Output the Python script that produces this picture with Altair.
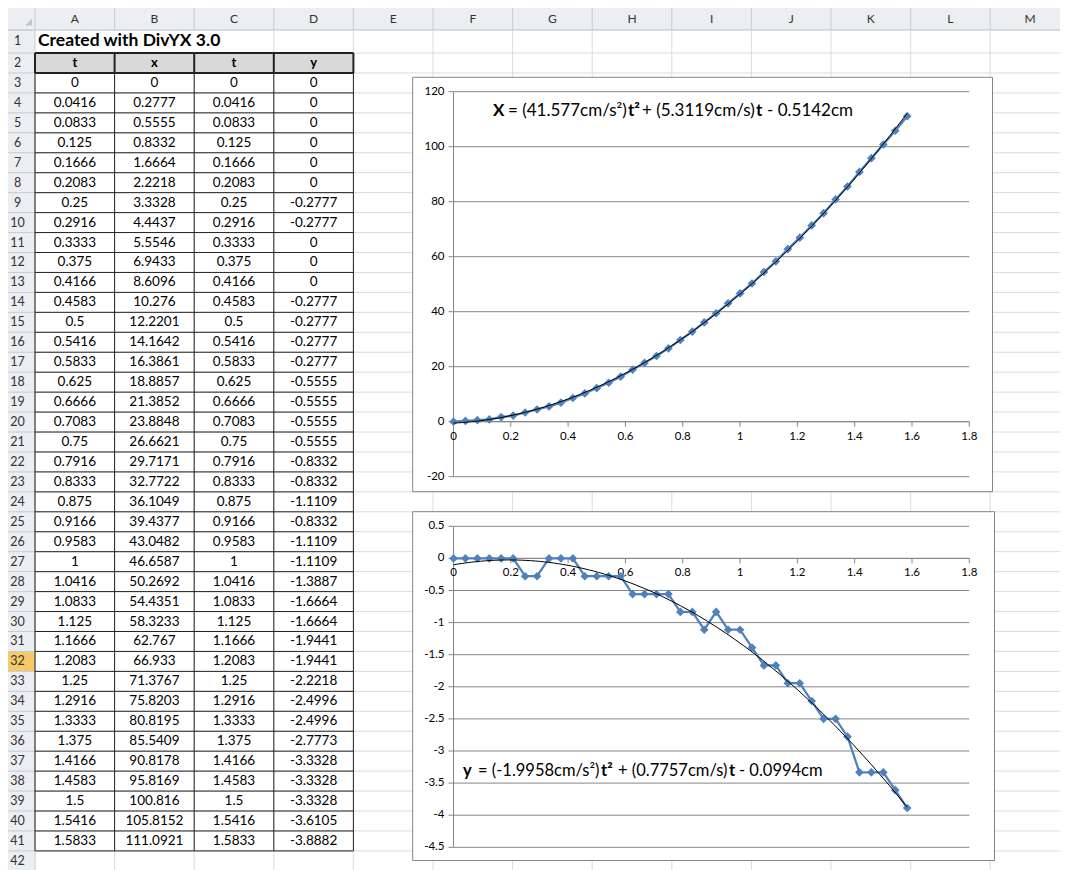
import altair as alt
import pandas as pd

# ---------------- data (read from the spreadsheet) ----------------
t_vals = [0, 0.0416, 0.0833, 0.125, 0.1666, 0.2083, 0.25, 0.2916, 0.3333, 0.375,
          0.4166, 0.4583, 0.5, 0.5416, 0.5833, 0.625, 0.6666, 0.7083, 0.75, 0.7916,
          0.8333, 0.875, 0.9166, 0.9583, 1, 1.0416, 1.0833, 1.125, 1.1666, 1.2083,
          1.25, 1.2916, 1.3333, 1.375, 1.4166, 1.4583, 1.5, 1.5416, 1.5833]
x_vals = [0, 0.2777, 0.5555, 0.8332, 1.6664, 2.2218, 3.3328, 4.4437, 5.5546, 6.9433,
          8.6096, 10.276, 12.2201, 14.1642, 16.3861, 18.8857, 21.3852, 23.8848, 26.6621, 29.7171,
          32.7722, 36.1049, 39.4377, 43.0482, 46.6587, 50.2692, 54.4351, 58.3233, 62.767, 66.933,
          71.3767, 75.8203, 80.8195, 85.5409, 90.8178, 95.8169, 100.816, 105.8152, 111.0921]
y_vals = [0, 0, 0, 0, 0, 0, -0.2777, -0.2777, 0, 0,
          0, -0.2777, -0.2777, -0.2777, -0.2777, -0.5555, -0.5555, -0.5555, -0.5555, -0.8332,
          -0.8332, -1.1109, -0.8332, -1.1109, -1.1109, -1.3887, -1.6664, -1.6664, -1.9441, -1.9441,
          -2.2218, -2.4996, -2.4996, -2.7773, -3.3328, -3.3328, -3.3328, -3.6105, -3.8882]

col_letters = ["A", "B", "C", "D", "E", "F", "G", "H", "I", "J", "K", "L", "M"]
header_names = ["t", "x", "t", "y"]
sheet_title = "Created with DivYX 3.0"
selected_row = 32
first_data_row = 3
last_row = 42

x_ticks = [0, 0.2, 0.4, 0.6, 0.8, 1.0, 1.2, 1.4, 1.6, 1.8]
x_tick_labels = ["0", "0.2", "0.4", "0.6", "0.8", "1", "1.2", "1.4", "1.6", "1.8"]
y1_ticks = [-20, 0, 20, 40, 60, 80, 100, 120]
y1_tick_labels = ["-20", "0", "20", "40", "60", "80", "100", "120"]
y2_ticks = [0.5, 0, -0.5, -1, -1.5, -2, -2.5, -3, -3.5, -4, -4.5]
y2_tick_labels = ["0.5", "0", "-0.5", "-1", "-1.5", "-2", "-2.5", "-3", "-3.5", "-4", "-4.5"]

eq1_parts = [("X", True), ("= (41.577cm/s²)", False), ("t²", True),
             ("+ (5.3119cm/s)", False), ("t", True), ("- 0.5142cm", False)]
eq2_parts = [("y", True), ("= (-1.9958cm/s²)", False), ("t²", True),
             ("+ (0.7757cm/s)", False), ("t", True), ("- 0.0994cm", False)]

# ---------------- layout / style ----------------
W, H = 1052, 862
FONT = "Lato"
HDR_H = 22
ROWHDR_W = 27
COL_W = 79.6
ROW_H = 19.947
ROW2_Y = 55
ROW1_TOP = 2 - (ROW2_Y - HDR_H) / ROW_H
ROW1_MID = 2 - (ROW2_Y - 33) / ROW_H

HDR_BG = "#ECEEF1"
HDR_LINE = "#C6CBD2"
SEL_BG = "#F6CA66"
GRID = "#DADCDD"
TBL_LINE = "#222222"
FRAME = "#868686"
AXC = "#868686"
BLUE = "#4F81BD"

eq1_x = [485, 500, 620, 634, 748, 759]
eq1_y = 103
eq1_size = 17
eq2_x = [455, 470, 593, 610, 721, 731]
eq2_y = 763
eq2_size = 16.5

SX = alt.Scale(domain=[0, 13], range=[ROWHDR_W, ROWHDR_W + 13 * COL_W], nice=False, zero=False)
SY = alt.Scale(domain=[2, 41], range=[ROW2_Y, ROW2_Y + 39 * ROW_H], nice=False, zero=False)

one = pd.DataFrame({"k": [0]})


def sx(f):
    return alt.X(f, scale=SX, axis=None)


def sy(f):
    return alt.Y(f, scale=SY, axis=None)


def fmt(v):
    s = repr(float(v))
    return s[:-2] if s.endswith(".0") else s


# ---------------- spreadsheet ----------------
bg_hdr = alt.Chart(one).mark_rect(color=HDR_BG).encode(
    x=alt.value(0), x2=alt.value(W), y=alt.value(0), y2=alt.value(HDR_H))
bg_rowhdr = alt.Chart(one).mark_rect(color=HDR_BG).encode(
    x=alt.value(0), x2=alt.value(ROWHDR_W), y=alt.value(HDR_H), y2=alt.value(H))
sel = alt.Chart(pd.DataFrame({"r0": [selected_row - 0.5], "r1": [selected_row + 0.5]})).mark_rect(
    color=SEL_BG).encode(x=alt.value(0), x2=alt.value(ROWHDR_W), y=sy("r0:Q"), y2="r1:Q")

col_bounds = pd.DataFrame({"c": list(range(1, 14))})
hdr_seps = alt.Chart(col_bounds).mark_rule(color=HDR_LINE).encode(
    x=sx("c:Q"), y=alt.value(0), y2=alt.value(HDR_H))
grid_v = alt.Chart(col_bounds).mark_rule(color=GRID).encode(
    x=sx("c:Q"), y=alt.value(HDR_H), y2=alt.value(H))

row_bounds = pd.DataFrame({"r": [ROW1_TOP] + [r + 0.5 for r in range(1, last_row + 1)]})
grid_h = alt.Chart(row_bounds).mark_rule(color=GRID).encode(
    x=alt.value(ROWHDR_W), x2=alt.value(W), y=sy("r:Q"))
rowhdr_seps = alt.Chart(row_bounds).mark_rule(color=HDR_LINE).encode(
    x=alt.value(0), x2=alt.value(ROWHDR_W), y=sy("r:Q"))
hdr_bottom = alt.Chart(one).mark_rule(color=HDR_LINE).encode(
    x=alt.value(0), x2=alt.value(W), y=alt.value(HDR_H))
rowhdr_right = alt.Chart(one).mark_rule(color=HDR_LINE).encode(
    x=alt.value(ROWHDR_W), y=alt.value(0), y2=alt.value(H))
corner = alt.Chart(one).mark_point(shape="M1,-1L1,1L-1,1Z", filled=True, size=49,
                                   color="#C4C4C4", opacity=1).encode(
    x=alt.value(20.5), y=alt.value(14))

row1_mask = alt.Chart(pd.DataFrame({"c0": [0.02], "c1": [2.98], "r0": [ROW1_TOP + 0.06], "r1": [1.44]})
                      ).mark_rect(color="white").encode(x=sx("c0:Q"), x2="c1:Q", y=sy("r0:Q"), y2="r1:Q")

col_text = alt.Chart(pd.DataFrame({"c": [i + 0.5 for i in range(13)], "lab": col_letters})).mark_text(
    font=FONT, fontSize=12, color="#333333", baseline="middle").encode(
    x=sx("c:Q"), y=alt.value(HDR_H / 2), text="lab:N")
row_text = alt.Chart(pd.DataFrame({"r": [ROW1_MID] + list(range(2, last_row + 1)),
                                   "lab": [str(i) for i in range(1, last_row + 1)]})).mark_text(
    font=FONT, fontSize=12.5, color="#333333", baseline="middle").encode(
    x=alt.value(9.5), y=sy("r:Q"), text="lab:N")
title_text = alt.Chart(pd.DataFrame({"c": [0], "r": [ROW1_MID], "lab": [sheet_title]})).mark_text(
    font=FONT, fontSize=17.5, fontWeight="bold", align="left", baseline="middle", dx=3).encode(
    x=sx("c:Q"), y=sy("r:Q"), text="lab:N")

hdr_fill = alt.Chart(pd.DataFrame({"c0": [0], "c1": [4], "r0": [1.5], "r1": [2.5]})).mark_rect(
    color="#D9D9D9").encode(x=sx("c0:Q"), x2="c1:Q", y=sy("r0:Q"), y2="r1:Q")

n_last = first_data_row + len(t_vals) - 1
tbl_v = alt.Chart(pd.DataFrame({"c": [0, 1, 2, 3, 4], "r0": [2.5] * 5, "r1": [n_last + 0.5] * 5})).mark_rule(
    color=TBL_LINE, strokeWidth=1).encode(x=sx("c:Q"), y=sy("r0:Q"), y2="r1:Q")
tbl_h = alt.Chart(pd.DataFrame({"r": [r + 0.5 for r in range(first_data_row, n_last + 1)]})).mark_rule(
    color=TBL_LINE, strokeWidth=1).encode(x=alt.X("c0:Q", scale=SX, axis=None), x2="c1:Q", y=sy("r:Q")
                                          ).transform_calculate(c0="0", c1="4")
hdr_v = alt.Chart(pd.DataFrame({"c": [0, 1, 2, 3, 4], "r0": [1.5] * 5, "r1": [2.5] * 5})).mark_rule(
    color=TBL_LINE, strokeWidth=2).encode(x=sx("c:Q"), y=sy("r0:Q"), y2="r1:Q")
hdr_h = alt.Chart(pd.DataFrame({"r": [1.5, 2.5], "c0": [0, 0], "c1": [4, 4]})).mark_rule(
    color=TBL_LINE, strokeWidth=2).encode(x=sx("c0:Q"), x2="c1:Q", y=sy("r:Q"))

hdr_text = alt.Chart(pd.DataFrame({"c": [i + 0.5 for i in range(4)], "r": [2] * 4, "lab": header_names})
                     ).mark_text(font=FONT, fontSize=13, fontWeight="bold", baseline="middle").encode(
    x=sx("c:Q"), y=sy("r:Q"), text="lab:N")

cells = []
for i in range(len(t_vals)):
    for j, v in enumerate([t_vals[i], x_vals[i], t_vals[i], y_vals[i]]):
        cells.append({"c": j + 0.5, "r": first_data_row + i, "lab": fmt(v)})
cell_text = alt.Chart(pd.DataFrame(cells)).mark_text(
    font=FONT, fontSize=13.5, baseline="middle", color="#000").encode(
    x=sx("c:Q"), y=sy("r:Q"), text="lab:N")

sheet = alt.layer(bg_hdr, bg_rowhdr, sel, hdr_seps, grid_v, grid_h, rowhdr_seps, hdr_bottom,
                  rowhdr_right, corner, row1_mask, hdr_fill, tbl_v, tbl_h, hdr_v, hdr_h,
                  col_text, row_text, title_text, hdr_text, cell_text)


# ---------------- charts ----------------
def build_chart(tv, vv, S_X, S_Y, xt, xtl, yt, ytl, frame, parts, part_x, part_y, part_size):
    def X(f):
        return alt.X(f, scale=S_X, axis=None)

    def Y(f):
        return alt.Y(f, scale=S_Y, axis=None)

    fx0, fx1, fy0, fy1 = frame
    n = len(yt)
    m = len(xt)
    frame_l = alt.Chart(one).mark_rect(fill="white", stroke=FRAME, strokeWidth=1).encode(
        x=alt.value(fx0), x2=alt.value(fx1), y=alt.value(fy0), y2=alt.value(fy1))
    grid = alt.Chart(pd.DataFrame({"v": yt, "a": [xt[0]] * n, "b": [xt[-1]] * n})).mark_rule(
        color=AXC, strokeWidth=1).encode(x=X("a:Q"), x2="b:Q", y=Y("v:Q"))
    yaxis = alt.Chart(pd.DataFrame({"a": [xt[0]], "lo": [min(yt)], "hi": [max(yt)]})).mark_rule(
        color=AXC).encode(x=X("a:Q"), y=Y("lo:Q"), y2="hi:Q")
    yticks = alt.Chart(pd.DataFrame({"a": [xt[0]] * n, "v": yt})).mark_rule(
        color=AXC, xOffset=-5).encode(x=X("a:Q"), x2="a:Q", y=Y("v:Q"))
    xaxis = alt.Chart(pd.DataFrame({"a": [xt[0]], "b": [xt[-1]], "z": [0]})).mark_rule(
        color=AXC).encode(x=X("a:Q"), x2="b:Q", y=Y("z:Q"))
    xticks = alt.Chart(pd.DataFrame({"v": xt, "z": [0] * m})).mark_rule(
        color=AXC, y2Offset=5).encode(x=X("v:Q"), y=Y("z:Q"), y2="z:Q")
    ylabels = alt.Chart(pd.DataFrame({"a": [xt[0]] * n, "v": yt, "lab": ytl})).mark_text(
        font=FONT, fontSize=11.5, align="right", baseline="middle", dx=-9, color="#000").encode(
        x=X("a:Q"), y=Y("v:Q"), text="lab:N")
    xlabels = alt.Chart(pd.DataFrame({"v": xt, "z": [0] * m, "lab": xtl})).mark_text(
        font=FONT, fontSize=11.5, align="center", baseline="middle", dy=15, color="#000").encode(
        x=X("v:Q"), y=Y("z:Q"), text="lab:N")
    series = pd.DataFrame({"t": tv, "v": vv})
    line = alt.Chart(series).mark_line(color=BLUE, strokeWidth=2.25).encode(x=X("t:Q"), y=Y("v:Q"))
    pts = alt.Chart(series).mark_point(shape="diamond", filled=True, size=75, color=BLUE,
                                       opacity=1).encode(x=X("t:Q"), y=Y("v:Q"))
    trend = alt.Chart(series).transform_regression(
        "t", "v", method="poly", order=2, extent=[tv[0], tv[-1]]).mark_line(
        color="black", strokeWidth=1).encode(x=X("t:Q"), y=Y("v:Q"))
    eq = []
    for (txt, bold), px in zip(parts, part_x):
        eq.append(alt.Chart(one).mark_text(
            text=txt, font=FONT, fontSize=part_size, fontWeight="bold" if bold else "normal",
            align="left", baseline="middle", color="#000").encode(
            x=alt.value(px), y=alt.value(part_y)))
    return alt.layer(frame_l, grid, yaxis, yticks, xaxis, xticks, ylabels, xlabels,
                     line, pts, trend, *eq)


S1X = alt.Scale(domain=[0, 1.8], range=[445.5, 961.3], nice=False, zero=False)
S1Y = alt.Scale(domain=[-20, 120], range=[468.7, 83.7], nice=False, zero=False)
S2X = alt.Scale(domain=[0, 1.8], range=[445.5, 961.3], nice=False, zero=False)
S2Y = alt.Scale(domain=[-4.5, 0.5], range=[839.3, 518.3], nice=False, zero=False)

chart1 = build_chart(t_vals, x_vals, S1X, S1Y, x_ticks, x_tick_labels, y1_ticks, y1_tick_labels,
                     (404.7, 984.5, 69.3, 483.7), eq1_parts, eq1_x, eq1_y, eq1_size)
chart2 = build_chart(t_vals, y_vals, S2X, S2Y, x_ticks, x_tick_labels, y2_ticks, y2_tick_labels,
                     (404.7, 986.5, 503.7, 852.5), eq2_parts, eq2_x, eq2_y, eq2_size)

chart = alt.layer(sheet, chart1, chart2).resolve_scale(
    x="independent", y="independent").properties(
    width=W, height=H, autosize=alt.AutoSizeParams(type="none"), padding=0
).configure_view(stroke=None)

chart.save("out.html", embed_options={"renderer": "svg", "actions": False})
